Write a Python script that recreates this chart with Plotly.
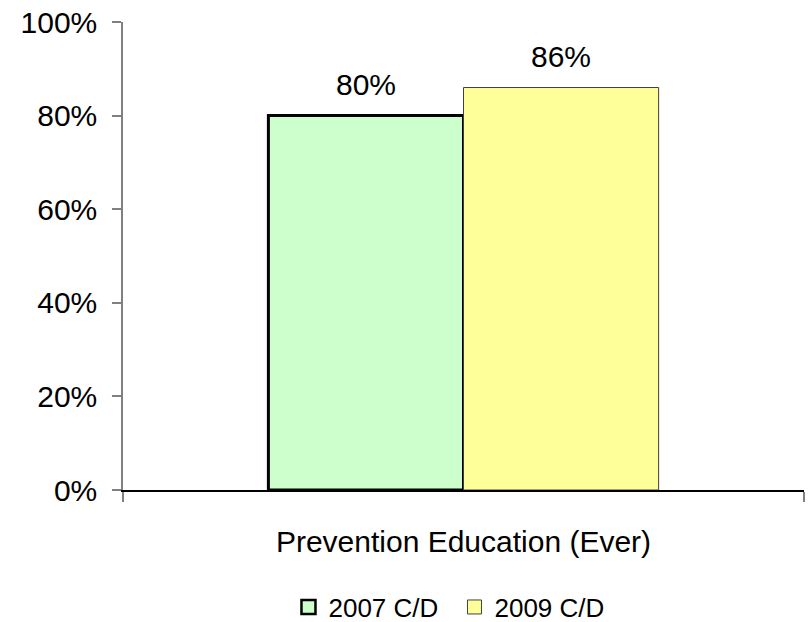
import plotly.graph_objects as go

categories = ["Prevention Education (Ever)"]
series_names = ["2007 C/D", "2009 C/D"]
values_2007 = [0.80]
values_2009 = [0.86]
y_ticks = [0, 0.2, 0.4, 0.6, 0.8, 1.0]
y_tick_labels = ["0%", "20%", "40%", "60%", "80%", "100%"]

FONT = "Arial, Liberation Sans, sans-serif"
BARGAP = 0.427
styles = [
    dict(fill="#CCFFCC", line="#000000", lw=3),
    dict(fill="#FFFF99", line="#404040", lw=1),
]

fig = go.Figure()
for name, vals, st in zip(series_names, [values_2007, values_2009], styles):
    fig.add_trace(go.Bar(
        name=name, x=categories, y=vals, showlegend=False,
        marker=dict(color=st["fill"], line=dict(color=st["line"], width=st["lw"])),
    ))
# legend entries with larger square swatches
for name, st in zip(series_names, styles):
    fig.add_trace(go.Scatter(
        name=name, x=[None], y=[None], mode="markers",
        marker=dict(symbol="square", size=14, color=st["fill"],
                    line=dict(color=st["line"], width=min(st["lw"], 2.5))),
    ))

# data labels above bars
plot_w = 808 - 123 - 4
bar_px = plot_w * (1 - BARGAP) / 2
for i, vals in enumerate([values_2007, values_2009]):
    shift = (i - 0.5) * bar_px
    for c, v in zip(categories, vals):
        fig.add_annotation(
            x=c, y=v, text=f"{round(v*100)}%", showarrow=False,
            xshift=shift, yshift=13, yanchor="bottom",
            font=dict(family=FONT, size=30, color="#000000"),
        )

fig.update_layout(
    width=808, height=622,
    margin=dict(l=123, r=4, t=22, b=132, autoexpand=False),
    paper_bgcolor="white", plot_bgcolor="white",
    barmode="group", bargap=BARGAP, bargroupgap=0,
    font=dict(family=FONT, size=30, color="#000000"),
    showlegend=True,
    legend=dict(
        orientation="h", x=0.243, xanchor="left",
        yref="container", y=0.024, yanchor="middle",
        font=dict(family=FONT, size=26, color="#000000"),
        itemwidth=30, tracegroupgap=0, entrywidth=121,
    ),
)
fig.update_xaxes(
    showline=True, linecolor="#000000", linewidth=1.5,
    ticks="outside", tickson="boundaries", ticklen=10, tickcolor="#808080", tickwidth=1.5,
    showgrid=False, zeroline=False, ticklabelstandoff=24, automargin=False,
    tickfont=dict(family=FONT, size=30, color="#000000"),
)
fig.update_yaxes(
    range=[0, 1], tickvals=y_ticks, ticktext=y_tick_labels,
    showline=True, linecolor="#808080", linewidth=1.5,
    ticks="outside", ticklen=9, tickcolor="#808080", tickwidth=1.5,
    showgrid=False, zeroline=False, ticklabelstandoff=9, automargin=False,
    tickfont=dict(family=FONT, size=30, color="#000000"),
)

fig.write_html("out.html")
